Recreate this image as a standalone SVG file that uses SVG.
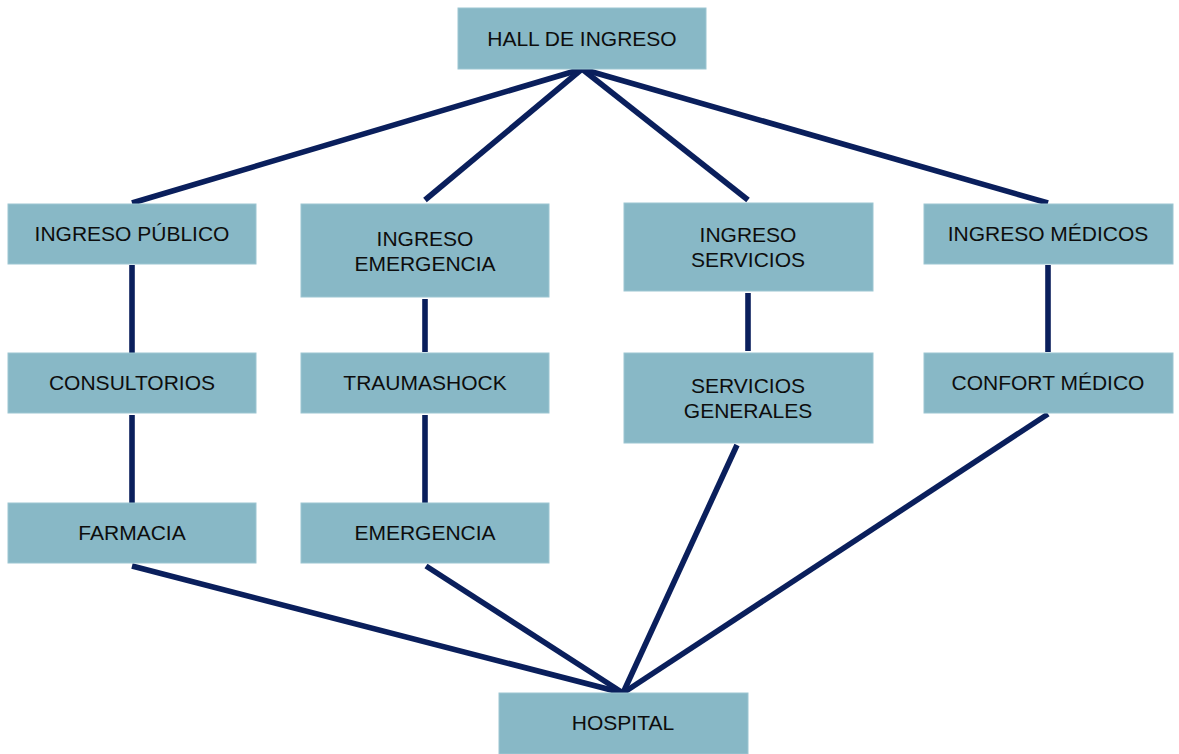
<svg xmlns="http://www.w3.org/2000/svg" width="1179" height="754" viewBox="0 0 1179 754">
  <style>
    .box { fill: #88b8c6; stroke: #9cc6d2; stroke-width: 1; }
    .lbl { font-family: "Liberation Sans", Arial, sans-serif; font-size: 21px; fill: #0d0d0d; text-anchor: middle; }
    .link { stroke: #0a1f5c; stroke-width: 5.6; fill: none; stroke-linecap: butt; }
  </style>
  <rect width="1179" height="754" fill="#ffffff"/>

  <!-- connectors -->
  <g id="connectors">
    <line class="link" x1="582" y1="69" x2="132" y2="203"/>
    <line class="link" x1="582" y1="69" x2="425" y2="200"/>
    <line class="link" x1="582" y1="69" x2="748" y2="200"/>
    <line class="link" x1="582" y1="69" x2="1048" y2="203"/>
    <line class="link" x1="132" y1="265" x2="132" y2="357"/>
    <line class="link" x1="132" y1="415" x2="132" y2="505"/>
    <line class="link" x1="425" y1="299" x2="425" y2="352"/>
    <line class="link" x1="425" y1="415" x2="425" y2="503"/>
    <line class="link" x1="748" y1="293" x2="748" y2="351"/>
    <line class="link" x1="1048" y1="265" x2="1048" y2="352"/>
    <line class="link" x1="132" y1="566" x2="623" y2="693"/>
    <line class="link" x1="426" y1="566" x2="623" y2="693"/>
    <line class="link" x1="737" y1="445" x2="623" y2="693"/>
    <line class="link" x1="1048" y1="414" x2="623" y2="693"/>
  </g>

  <g id="hall">
    <rect class="box" x="458" y="8" width="248" height="61"/>
    <text class="lbl" x="582" y="46">HALL DE INGRESO</text>
  </g>
  <g id="ingreso-publico">
    <rect class="box" x="8" y="204" width="248" height="60"/>
    <text class="lbl" x="132" y="241">INGRESO PÚBLICO</text>
  </g>
  <g id="ingreso-emergencia">
    <rect class="box" x="301" y="204" width="248" height="93"/>
    <text class="lbl" x="425" y="245.5">INGRESO</text>
    <text class="lbl" x="425" y="270.5">EMERGENCIA</text>
  </g>
  <g id="ingreso-servicios">
    <rect class="box" x="624" y="203" width="249" height="88"/>
    <text class="lbl" x="748" y="242">INGRESO</text>
    <text class="lbl" x="748" y="267">SERVICIOS</text>
  </g>
  <g id="ingreso-medicos">
    <rect class="box" x="924" y="204" width="249" height="60"/>
    <text class="lbl" x="1048" y="241">INGRESO MÉDICOS</text>
  </g>
  <g id="consultorios">
    <rect class="box" x="8" y="353" width="248" height="60"/>
    <text class="lbl" x="132" y="390">CONSULTORIOS</text>
  </g>
  <g id="traumashock">
    <rect class="box" x="301" y="353" width="248" height="60"/>
    <text class="lbl" x="425" y="390">TRAUMASHOCK</text>
  </g>
  <g id="servicios-generales">
    <rect class="box" x="624" y="353" width="249" height="90"/>
    <text class="lbl" x="748" y="393">SERVICIOS</text>
    <text class="lbl" x="748" y="418">GENERALES</text>
  </g>
  <g id="confort-medico">
    <rect class="box" x="924" y="353" width="249" height="60"/>
    <text class="lbl" x="1048" y="390">CONFORT MÉDICO</text>
  </g>
  <g id="farmacia">
    <rect class="box" x="8" y="503" width="248" height="60"/>
    <text class="lbl" x="132" y="540">FARMACIA</text>
  </g>
  <g id="emergencia">
    <rect class="box" x="301" y="503" width="248" height="60"/>
    <text class="lbl" x="425" y="540">EMERGENCIA</text>
  </g>
  <g id="hospital">
    <rect class="box" x="499" y="693" width="249" height="61"/>
    <text class="lbl" x="623" y="730">HOSPITAL</text>
  </g>
</svg>
